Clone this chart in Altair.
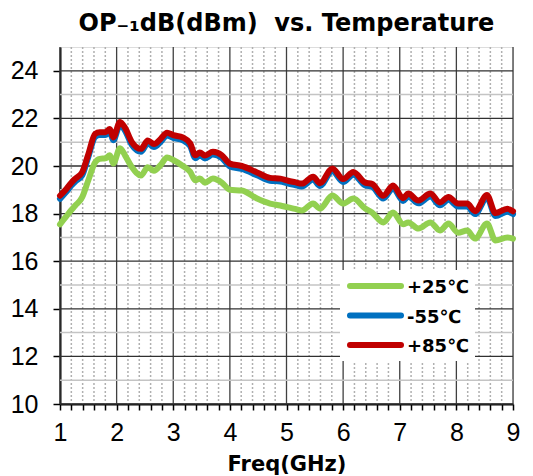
import altair as alt
import pandas as pd

freq = [1.0, 1.1, 1.2, 1.27, 1.39, 1.5, 1.62, 1.7, 1.8, 1.88, 1.94, 2.06, 2.15, 2.27, 2.43,
        2.55, 2.66, 2.78, 2.89, 3.0, 3.17, 3.3, 3.39, 3.47, 3.56, 3.7, 3.86, 4.0, 4.21, 4.48,
        4.71, 4.89, 5.03, 5.15, 5.27, 5.47, 5.59, 5.81, 6.0, 6.18, 6.39, 6.51, 6.71, 6.88, 7.06,
        7.15, 7.33, 7.54, 7.71, 7.86, 8.03, 8.19, 8.33, 8.54, 8.69, 8.9, 9.0]

t_p25 = [17.55, 17.85, 18.15, 18.34, 18.68, 19.4, 20.15, 20.3, 20.32, 20.45, 20.1, 20.75, 20.44, 19.95, 19.6,
         19.95, 19.8, 20.05, 20.36, 20.25, 20.0, 19.75, 19.4, 19.47, 19.3, 19.47, 19.3, 19.0, 18.97, 18.63,
         18.42, 18.34, 18.26, 18.2, 18.13, 18.42, 18.21, 18.76, 18.42, 18.63, 18.21, 18.05, 17.63, 18.05, 17.55,
         17.63, 17.37, 17.63, 17.29, 17.58, 17.2, 17.29, 16.95, 17.58, 16.87, 17.0, 16.95]

t_m55 = [18.62, 18.88, 19.18, 19.35, 19.6, 20.38, 21.22, 21.3, 21.3, 21.42, 21.08, 21.72, 21.48, 20.88, 20.6,
         20.95, 20.8, 21.02, 21.28, 21.18, 21.08, 20.83, 20.33, 20.45, 20.32, 20.48, 20.33, 19.98, 19.88, 19.61,
         19.38, 19.35, 19.26, 19.2, 19.14, 19.43, 19.16, 19.78, 19.33, 19.63, 19.18, 19.13, 18.63, 19.06, 18.53,
         18.72, 18.43, 18.72, 18.35, 18.58, 18.3, 18.3, 17.98, 18.66, 17.9, 18.08, 17.98]

t_p85 = [18.75, 19.0, 19.3, 19.47, 19.73, 20.5, 21.35, 21.42, 21.42, 21.55, 21.2, 21.85, 21.6, 21.0, 20.72,
         21.07, 20.92, 21.15, 21.4, 21.3, 21.2, 20.95, 20.45, 20.57, 20.44, 20.6, 20.45, 20.1, 20.0, 19.73,
         19.5, 19.47, 19.38, 19.32, 19.26, 19.55, 19.28, 19.9, 19.45, 19.75, 19.3, 19.25, 18.75, 19.18, 18.65,
         18.84, 18.55, 18.84, 18.47, 18.7, 18.42, 18.42, 18.1, 18.78, 18.02, 18.2, 18.1]

series_names = ["+25℃", "-55℃", "+85℃"]
series_colors = ["#92d050", "#0070c0", "#c00000"]
legend_rows = [0, 1, 2]

x_major = [1, 2, 3, 4, 5, 6, 7, 8, 9]
x_minor = [round(1 + 0.2 * i, 1) for i in range(41) if i % 5 != 0]
x_ticks = [round(1 + 0.2 * i, 1) for i in range(41)]
y_even = [10, 12, 14, 16, 18, 20, 22, 24]
y_odd = [11, 13, 15, 17, 19, 21, 23]

rows = []
for name, vals in zip(series_names, [t_p25, t_m55, t_p85]):
    for f, v in zip(freq, vals):
        rows.append({"freq": f, "val": v, "series": name})
df = pd.DataFrame(rows)
legend_df = pd.DataFrame({"series": series_names, "row": legend_rows})

xs = alt.Scale(domain=[1, 9], nice=False, zero=False)
ys = alt.Scale(domain=[10, 25], nice=False, zero=False)
cs = alt.Scale(domain=series_names, range=series_colors)
leg_y = alt.Scale(domain=[0, 2], range=[239, 298], nice=False, zero=False)

x_axis = alt.Axis(values=x_ticks, labelExpr="abs(datum.value - round(datum.value)) < 0.01 ? format(datum.value, 'd') : ''",
                  grid=False, tickSize=6, tickColor="black", tickWidth=1.5, domainColor="black", domainWidth=2,
                  labelFont="Liberation Sans", labelFontSize=25, labelColor="black", labelPadding=10,
                  title="Freq(GHz)", titleFont="DejaVu Sans", titleFontSize=21, titleFontWeight="bold",
                  titleColor="black", titlePadding=8, labelFlush=False, labelOverlap=False, labelBound=False)
y_axis = alt.Axis(values=y_even, grid=False, tickSize=7, tickColor="black", tickWidth=1.5, domainColor="black",
                  domainWidth=2, labelFont="Liberation Sans", labelFontSize=25, labelColor="black",
                  labelPadding=15, title=None, labelOverlap=False)

minor_v = alt.Chart(pd.DataFrame({"x": x_minor})).mark_rule(
    color="#b0b0b0", strokeWidth=1.5, strokeDash=[2, 2]).encode(x=alt.X("x:Q", scale=xs, axis=x_axis))
major_v = alt.Chart(pd.DataFrame({"x": x_major})).mark_rule(
    color="#404040", strokeWidth=1.3).encode(x=alt.X("x:Q", scale=xs, axis=x_axis))
odd_h = alt.Chart(pd.DataFrame({"y": y_odd})).mark_rule(
    color="#c4c4c4", strokeWidth=1.5).encode(y=alt.Y("y:Q", scale=ys, axis=y_axis))
even_h = alt.Chart(pd.DataFrame({"y": y_even})).mark_rule(
    color="#303030", strokeWidth=1.3).encode(y=alt.Y("y:Q", scale=ys, axis=y_axis))

lines = []
for name in series_names:
    lines.append(
        alt.Chart(df).transform_filter(alt.datum.series == name).mark_line(
            strokeWidth=6, interpolate="monotone", strokeCap="round", strokeJoin="round").encode(
            x=alt.X("freq:Q", scale=xs, axis=x_axis),
            y=alt.Y("val:Q", scale=ys, axis=y_axis),
            color=alt.Color("series:N", scale=cs, legend=None),
        )
    )

base_plot = alt.layer(minor_v, major_v, odd_h, even_h, *lines)

leg_box = alt.Chart(legend_df).mark_rect(color="white").encode(
    x=alt.value(280), x2=alt.value(415), y=alt.value(223), y2=alt.value(314))
leg_lines = alt.Chart(legend_df).mark_rule(strokeWidth=6, strokeCap="round").encode(
    x=alt.value(290), x2=alt.value(341),
    y=alt.Y("row:Q", scale=leg_y, axis=None),
    color=alt.Color("series:N", scale=cs, legend=None))
leg_text = alt.Chart(legend_df).mark_text(
    align="left", baseline="middle", font="DejaVu Sans", fontSize=18, fontWeight="bold", color="black",
    dy=2).encode(
    x=alt.value(347),
    y=alt.Y("row:Q", scale=leg_y, axis=None),
    text="series:N")
legend_layer = alt.layer(leg_box, leg_lines, leg_text)

chart = alt.layer(base_plot, legend_layer).resolve_scale(y="independent").properties(
    width=453, height=357,
    autosize=alt.AutoSizeParams(type="none"),
    padding={"left": 52, "top": 39, "right": 12, "bottom": 72},
    title=alt.TitleParams("OP₋₁dB(dBm)\u00a0\u00a0vs. Temperature", font="DejaVu Sans", fontSize=24,
                          fontWeight="bold", color="black", anchor="middle", offset=10),
).configure_view(stroke="black", strokeWidth=1.5).configure(background="white")

chart.save("out.html", embed_options={"renderer": "svg", "actions": False})
